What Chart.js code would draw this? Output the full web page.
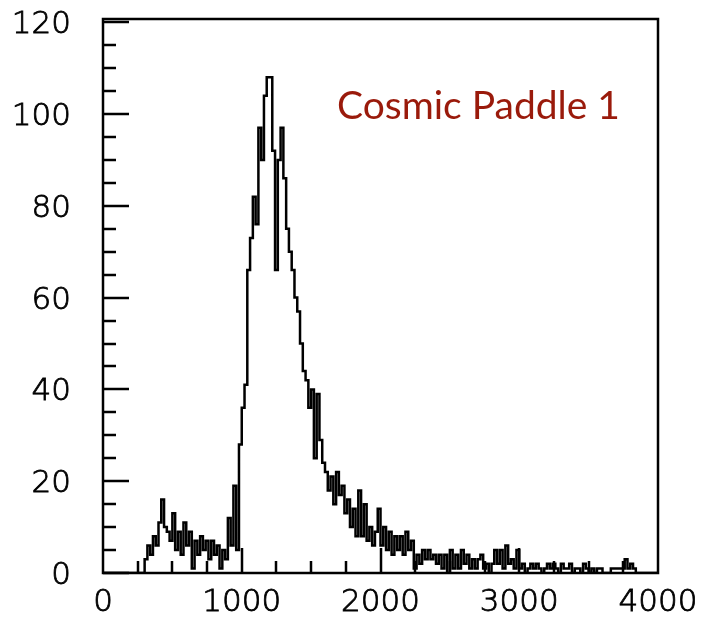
<!DOCTYPE html>
<html>
<head>
<meta charset="utf-8">
<script src="https://cdn.jsdelivr.net/npm/chart.js@4.4.1/dist/chart.umd.min.js"></script>
<style>
  html, body { margin: 0; padding: 0; background: #ffffff; }
  #wrap { width: 706px; height: 620px; }
</style>
</head>
<body>
<div id="wrap"><canvas id="histo" width="706" height="620"></canvas></div>
<script>
// Histogram settings
const binWidth = 20;
const xMin = 0;
const xMax = 4000;
const yMin = 0;
const yMax = 120.7;

// Tick labels
const xTickValues = [0, 1000, 2000, 3000, 4000];
const yTickValues = [0, 20, 40, 60, 80, 100, 120];

const titleText = 'Cosmic Paddle 1';

// Counts per bin (20 wide, from 0 to 4000)
const counts = [
  0, 0, 0, 0, 0, 0, 0, 0, 0, 0,
  0, 0, 0, 0, 0, 0, 3, 6, 4, 8,
  6, 11, 16, 10, 9, 7, 13, 5, 9, 4,
  11, 6, 9, 1, 7, 4, 8, 5, 7, 3,
  7, 4, 6, 1, 5, 3, 12, 6, 19, 5,
  28, 36, 41, 66, 73, 82, 76, 97, 90, 104,
  108, 108, 92, 66, 90, 97, 86, 75, 70, 66,
  60, 57, 50, 44, 42, 36, 40, 25, 39, 29,
  24, 22, 18, 21, 15, 22, 17, 19, 13, 16,
  10, 14, 8, 18, 8, 15, 7, 10, 6, 9,
  14, 6, 10, 5, 9, 4, 8, 5, 8, 4,
  9, 5, 7, 1, 4, 2, 5, 3, 5, 3,
  4, 2, 4, 1, 4, 0, 5, 1, 4, 1,
  5, 2, 4, 1, 3, 1, 3, 4, 1, 2,
  0, 2, 5, 2, 5, 1, 6, 2, 3, 1,
  5, 1, 2, 0, 1, 2, 1, 2, 1, 0,
  1, 2, 1, 2, 1, 0, 2, 1, 1, 2,
  0, 1, 1, 0, 2, 1, 0, 1, 0, 1,
  1, 0, 0, 0, 1, 1, 1, 1, 1, 3,
  1, 2, 1, 0, 0, 0, 0, 0, 0, 0
];

// step outline: one point per bin low edge + closing point at the end
const points = counts.map((c, i) => ({ x: xMin + i * binWidth, y: c }));
points.push({ x: xMax, y: counts[counts.length - 1] });

const tickFont = { family: '"DejaVu Sans", sans-serif', size: 31, weight: 200 };

// frame, inward tick marks and the text label
const framePlugin = {
  id: 'frame',
  afterDraw(chart) {
    const ctx = chart.ctx;
    const a = chart.chartArea;
    const xs = chart.scales.x;
    const ys = chart.scales.y;
    ctx.save();
    ctx.strokeStyle = '#000';
    ctx.lineWidth = 2.5;

    // y ticks: every 5, long ones every 20
    ctx.beginPath();
    for (let v = 0; v <= 120; v += 5) {
      const py = Math.round(ys.getPixelForValue(v));
      const len = (v % 20 === 0) ? 26 : 13;
      ctx.moveTo(a.left, py);
      ctx.lineTo(a.left + len, py);
    }
    // x ticks: every 250, long ones every 1000
    for (let v = 250; v < xMax; v += 250) {
      const px = Math.round(xs.getPixelForValue(v));
      const len = (v % 1000 === 0) ? 25 : 12;
      ctx.moveTo(px, a.bottom);
      ctx.lineTo(px, a.bottom - len);
    }
    ctx.stroke();

    ctx.strokeRect(a.left, a.top, a.right - a.left, a.bottom - a.top);

    ctx.fillStyle = '#9a1a0b';
    ctx.font = '39px Lato, "Open Sans", sans-serif';
    ctx.textAlign = 'left';
    ctx.textBaseline = 'alphabetic';
    ctx.fillText(titleText, a.left + 234, a.top + 100);
    ctx.restore();
  }
};

const ctx = document.getElementById('histo').getContext('2d');
new Chart(ctx, {
  type: 'line',
  data: {
    datasets: [{
      label: 'counts',
      data: points,
      stepped: 'after',
      borderColor: '#000',
      borderWidth: 2.5,
      pointRadius: 0,
      fill: false,
      tension: 0
    }]
  },
  options: {
    responsive: false,
    animation: false,
    events: [],
    layout: { padding: { top: 19, right: 48, left: 0, bottom: 0 } },
    plugins: {
      legend: { display: false },
      tooltip: { enabled: false },
      title: { display: false }
    },
    scales: {
      x: {
        type: 'linear',
        min: xMin,
        max: xMax,
        grid: { display: false, drawTicks: false, tickLength: 0 },
        border: { display: false },
        afterBuildTicks(scale) { scale.ticks = xTickValues.map(v => ({ value: v })); },
        afterFit(scale) {
          scale.height = 47;
          scale.paddingLeft = 0;
          scale.paddingRight = 0;
        },
        ticks: {
          color: '#000', font: tickFont, padding: 11, maxRotation: 0, autoSkip: false,
          textStrokeColor: '#000', textStrokeWidth: 0.8,
          callback: v => String(v)
        }
      },
      y: {
        type: 'linear',
        min: yMin,
        max: yMax,
        grid: { display: false, drawTicks: false, tickLength: 0 },
        border: { display: false },
        afterBuildTicks(scale) { scale.ticks = yTickValues.map(v => ({ value: v })); },
        afterFit(scale) {
          scale.width = 103;
          scale.paddingTop = 0;
          scale.paddingBottom = 0;
        },
        ticks: {
          color: '#000', font: tickFont, padding: 32, labelOffset: 3, autoSkip: false,
          textStrokeColor: '#000', textStrokeWidth: 0.8,
          callback: v => String(v)
        }
      }
    }
  },
  plugins: [framePlugin]
});
</script>
</body>
</html>
